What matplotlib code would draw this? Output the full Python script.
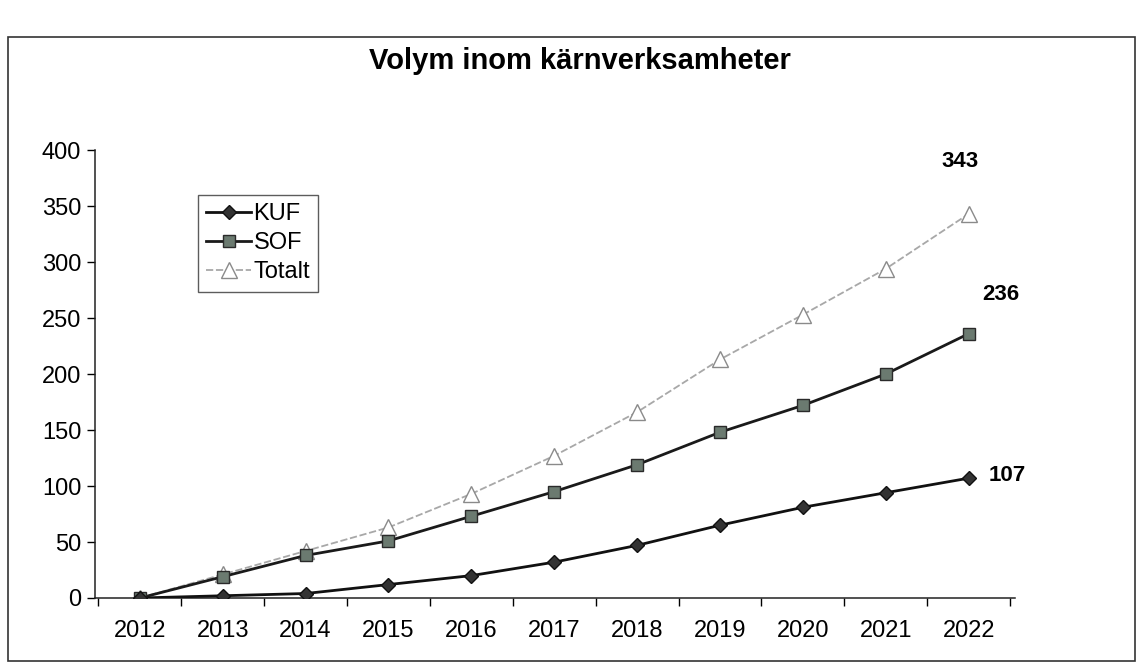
import numpy as np
import matplotlib.pyplot as plt
from matplotlib.patches import Rectangle


# Data
years = ['2012', '2013', '2014', '2015', '2016', '2017', '2018', '2019', '2020', '2021', '2022']
kuf = [0, 2, 4, 12, 20, 32, 47, 65, 81, 94, 107]
sof = [0, 19, 38, 51, 73, 95, 119, 148, 172, 200, 236]
totalt = [0, 21, 42, 63, 93, 127, 166, 213, 253, 294, 343]

plt.rcParams['font.family'] = ['Liberation Sans', 'DejaVu Sans']

fig = plt.figure(figsize=(11.38, 6.64), dpi=100)
ax = fig.add_axes([0.0835, 0.0994, 0.8085, 0.6746])

x = np.arange(len(years))
ax.plot(x, totalt, color='#a8a8a8', linestyle=(0, (4, 1.5)), linewidth=1.3,
        marker='^', markersize=12, markerfacecolor='white', markeredgecolor='#8a8a8a',
        markeredgewidth=1.0, label='Totalt', zorder=2)
ax.plot(x, sof, color='#1a1a1a', linewidth=2.0, marker='s', markersize=8.5,
        markerfacecolor='#6b7a70', markeredgecolor='#2a2a2a', markeredgewidth=1.0,
        label='SOF', zorder=3)
ax.plot(x, kuf, color='#111111', linewidth=2.0, marker='D', markersize=7.5,
        markerfacecolor='#333333', markeredgecolor='#111111', label='KUF', zorder=4)

# End labels
ax.annotate(str(totalt[-1]), (x[-1], totalt[-1]), xytext=(-6, 38), textcoords='offset points',
            ha='center', va='center', fontsize=16, fontweight='bold')
ax.annotate(str(sof[-1]), (x[-1], sof[-1]), xytext=(23, 28), textcoords='offset points',
            ha='center', va='center', fontsize=16, fontweight='bold')
ax.annotate(str(kuf[-1]), (x[-1], kuf[-1]), xytext=(28, 2), textcoords='offset points',
            ha='center', va='center', fontsize=16, fontweight='bold')

ax.set_xlim(-0.54, 10.56)
ax.set_ylim(0, 400)
ax.set_yticks(np.arange(0, 401, 50))
ax.set_xticks(x)
ax.set_xticklabels(years)
ax.set_xticks(np.arange(-0.5, 10.6, 1), minor=True)
ax.tick_params(axis='x', which='major', length=0, labelsize=17, pad=16)
ax.tick_params(axis='x', which='minor', length=6, direction='out', width=1.0)
ax.tick_params(axis='y', length=6, direction='out', labelsize=17, width=1.0, pad=4)
for s in ['top', 'right']:
    ax.spines[s].set_visible(False)
for s in ['left', 'bottom']:
    ax.spines[s].set_linewidth(1.1)
    ax.spines[s].set_color('#222222')

handles, labels = ax.get_legend_handles_labels()
leg = ax.legend(handles[::-1], labels[::-1], loc='upper left', bbox_to_anchor=(0.112, 0.9),
                fontsize=17, frameon=True, fancybox=False, edgecolor='#333333',
                handlelength=1.9, handletextpad=0.1, borderpad=0.35, labelspacing=0.3,
                borderaxespad=0)
leg.get_frame().set_linewidth(1.0)

fig.text(0.51, 0.908, 'Volym inom kärnverksamheter', ha='center', va='center',
         fontsize=21, fontweight='bold')

# outer chart border
fig.patches.append(Rectangle((0.007, 0.004), 0.99, 0.94, transform=fig.transFigure,
                             fill=False, edgecolor='#333333', linewidth=1.2))

fig.savefig('out.png', dpi=100)
